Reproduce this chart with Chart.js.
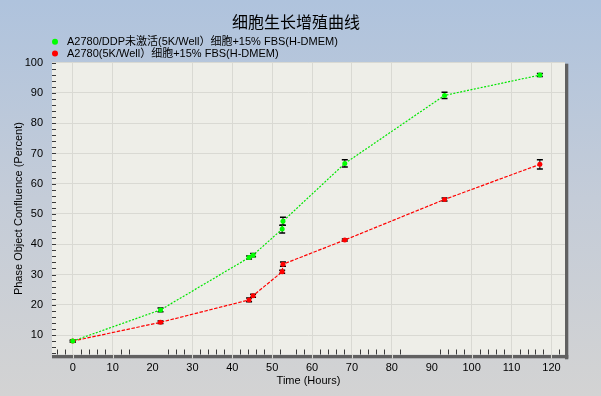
<!DOCTYPE html>
<html><head><meta charset="utf-8">
<script src="https://cdn.jsdelivr.net/npm/chart.js@4.4.1/dist/chart.umd.min.js"></script>
<style>
html,body{margin:0;padding:0;}
#wrap{width:601px;height:396px;background:linear-gradient(to bottom,#AFC3DD 0%,#C4CCD8 50%,#D3D3D3 100%);}
canvas{display:block;}
</style></head>
<body><div id="wrap"><canvas id="c" width="601" height="396"></canvas></div>
<script>
const chartTitle = '细胞生长增殖曲线';
const seriesLabels = ['A2780/DDP未激活(5K/Well）细胞+15% FBS(H-DMEM)', 'A2780(5K/Well）细胞+15% FBS(H-DMEM)'];
const times = [0, 22, 44.2, 45.2, 52.5, 52.7, 68.2, 93.2, 117.1];
const greenValues = [8.0, 18.3, 35.6, 36.4, 45.0, 47.6, 66.7, 89.2, 95.9];
const redValues = [8.0, 14.2, 21.6, 23.0, 30.9, 33.4, 41.4, 54.8, 66.4];
const greenErrors = [0.3, 0.6, 0.5, 0.5, 1.3, 1.3, 1.2, 1.0, 0.5];
const redErrors = [0.3, 0.4, 0.6, 0.5, 0.5, 0.7, 0.3, 0.5, 1.5];
const xTickLabels = [0, 10, 20, 30, 40, 50, 60, 70, 80, 90, 100, 110, 120];
const yTickLabels = [10, 20, 30, 40, 50, 60, 70, 80, 90, 100];
const hiddenXGrid = [20, 90];
const skippedMinorX = [16, 18, 20, 22, 54, 84, 86, 88, 90];

const FONT = "'Liberation Sans', Arial, 'Noto Sans CJK SC', sans-serif";
const GRID = '#D9D9D3';

const errorSets = [greenErrors, redErrors];

const bgPlugin = {
  id: 'bg',
  beforeDraw(chart) {
    const {ctx, chartArea: a} = chart;
    ctx.save();
    ctx.fillStyle = '#EEEEE8';
    ctx.fillRect(a.left, a.top, a.right - a.left, a.bottom - a.top);
    ctx.restore();
  },
  beforeDatasetsDraw(chart) {
    const {ctx, chartArea: a, scales} = chart;
    ctx.save();
    ctx.fillStyle = '#616161';
    ctx.fillRect(a.left, a.bottom + 0.5, a.right - a.left + 3.3, 3.3);
    ctx.fillRect(a.right, a.top + 1, 3.3, a.bottom - a.top + 3.8);
    ctx.fillStyle = GRID;
    xTickLabels.forEach(v => {
      if (hiddenXGrid.includes(v)) return;
      const px = Math.round(scales.x.getPixelForValue(v)) + 0.5;
      ctx.fillRect(px - 0.5, a.bottom, 1, 4);
    });
    ctx.strokeStyle = '#3a3a3a';
    ctx.lineWidth = 1;
    ctx.beginPath();
    for (let v = 4; v <= 100; v += 2) {
      const py = Math.round(scales.y.getPixelForValue(v)) + 0.5;
      ctx.moveTo(a.left, py); ctx.lineTo(a.left + 4, py);
    }
    for (let v = -4; v <= 122; v += 2) {
      if (v % 10 === 0 || skippedMinorX.includes(v)) continue;
      const px = Math.round(scales.x.getPixelForValue(v)) + 0.5;
      ctx.moveTo(px, a.bottom); ctx.lineTo(px, a.bottom - 5);
    }
    ctx.stroke();
    ctx.strokeStyle = '#000';
    chart.data.datasets.forEach((ds, di) => {
      const errs = errorSets[di];
      ds.data.forEach((p, i) => {
        const x = scales.x.getPixelForValue(p.x);
        const yT = scales.y.getPixelForValue(p.y + errs[i]);
        const yB = scales.y.getPixelForValue(p.y - errs[i]);
        ctx.lineWidth = 1;
        ctx.beginPath(); ctx.moveTo(x, yT); ctx.lineTo(x, yB); ctx.stroke();
        ctx.lineWidth = 1.5;
        ctx.beginPath();
        ctx.moveTo(x - 3, yT); ctx.lineTo(x + 3, yT);
        ctx.moveTo(x - 3, yB); ctx.lineTo(x + 3, yB);
        ctx.stroke();
      });
    });
    ctx.restore();
  },
  afterDraw(chart) {
    const {ctx} = chart;
    ctx.save();
    ctx.fillStyle = '#000';
    ctx.font = "16px 'Noto Sans CJK SC', sans-serif";
    ctx.textAlign = 'center';
    ctx.textBaseline = 'middle';
    ctx.fillText(chartTitle, 296, 22);
    ctx.font = '11px ' + FONT;
    ctx.textAlign = 'left';
    chart.data.datasets.forEach((ds, i) => {
      const y = 41.7 + i * 11.8;
      ctx.fillStyle = ds.pointBackgroundColor;
      ctx.beginPath(); ctx.arc(55, y, 3, 0, Math.PI * 2); ctx.fill();
      ctx.fillStyle = '#000';
      ctx.fillText(ds.label, 67, y + 0.5);
    });
    ctx.restore();
  }
};

const mk = (vals) => times.map((t, i) => ({x: t, y: vals[i]}));

new Chart(document.getElementById('c'), {
  type: 'line',
  data: {
    datasets: [
      {label: seriesLabels[0], data: mk(greenValues), borderColor: '#00E600', pointBackgroundColor: '#00FF00', pointBorderColor: '#00FF00',
       borderWidth: 1.2, borderDash: [2, 1.5], pointRadius: 2.5, pointBorderWidth: 0, tension: 0, fill: false},
      {label: seriesLabels[1], data: mk(redValues), borderColor: '#FF0000', pointBackgroundColor: '#FF0000', pointBorderColor: '#FF0000',
       borderWidth: 1.2, borderDash: [3.5, 1.5], pointRadius: 2.5, pointBorderWidth: 0, tension: 0, fill: false}
    ]
  },
  options: {
    responsive: false, animation: false, devicePixelRatio: 1,
    layout: {padding: {top: 62.7, right: 36, left: 0, bottom: 0}},
    plugins: {legend: {display: false}, title: {display: false}, tooltip: {enabled: false}},
    scales: {
      x: {
        type: 'linear', min: -5.2, max: 123.4,
        afterFit(s) { s.height = 41.5; },
        afterBuildTicks(s) { s.ticks = xTickLabels.map(v => ({value: v})); },
        ticks: {color: '#000', font: {family: FONT, size: 11}, padding: 7, maxRotation: 0, autoSkip: false},
        grid: {color: c => (c.tick && hiddenXGrid.includes(c.tick.value)) ? 'rgba(0,0,0,0)' : GRID, drawTicks: false, lineWidth: 1},
        border: {display: false},
        title: {display: true, text: 'Time (Hours)', color: '#000', font: {family: FONT, size: 11}, padding: {top: 0, bottom: 8}}
      },
      y: {
        min: 3.56, max: 100,
        afterFit(s) { s.width = 52; },
        afterBuildTicks(s) { s.ticks = yTickLabels.map(v => ({value: v})); },
        ticks: {color: '#000', font: {family: FONT, size: 11}, padding: 9},
        grid: {color: GRID, drawTicks: false, lineWidth: 1},
        border: {display: false},
        title: {display: true, text: 'Phase Object Confluence (Percent)', color: '#000', font: {family: FONT, size: 11}, padding: {top: 12, bottom: 0}}
      }
    }
  },
  plugins: [bgPlugin]
});
</script>
</body></html>
